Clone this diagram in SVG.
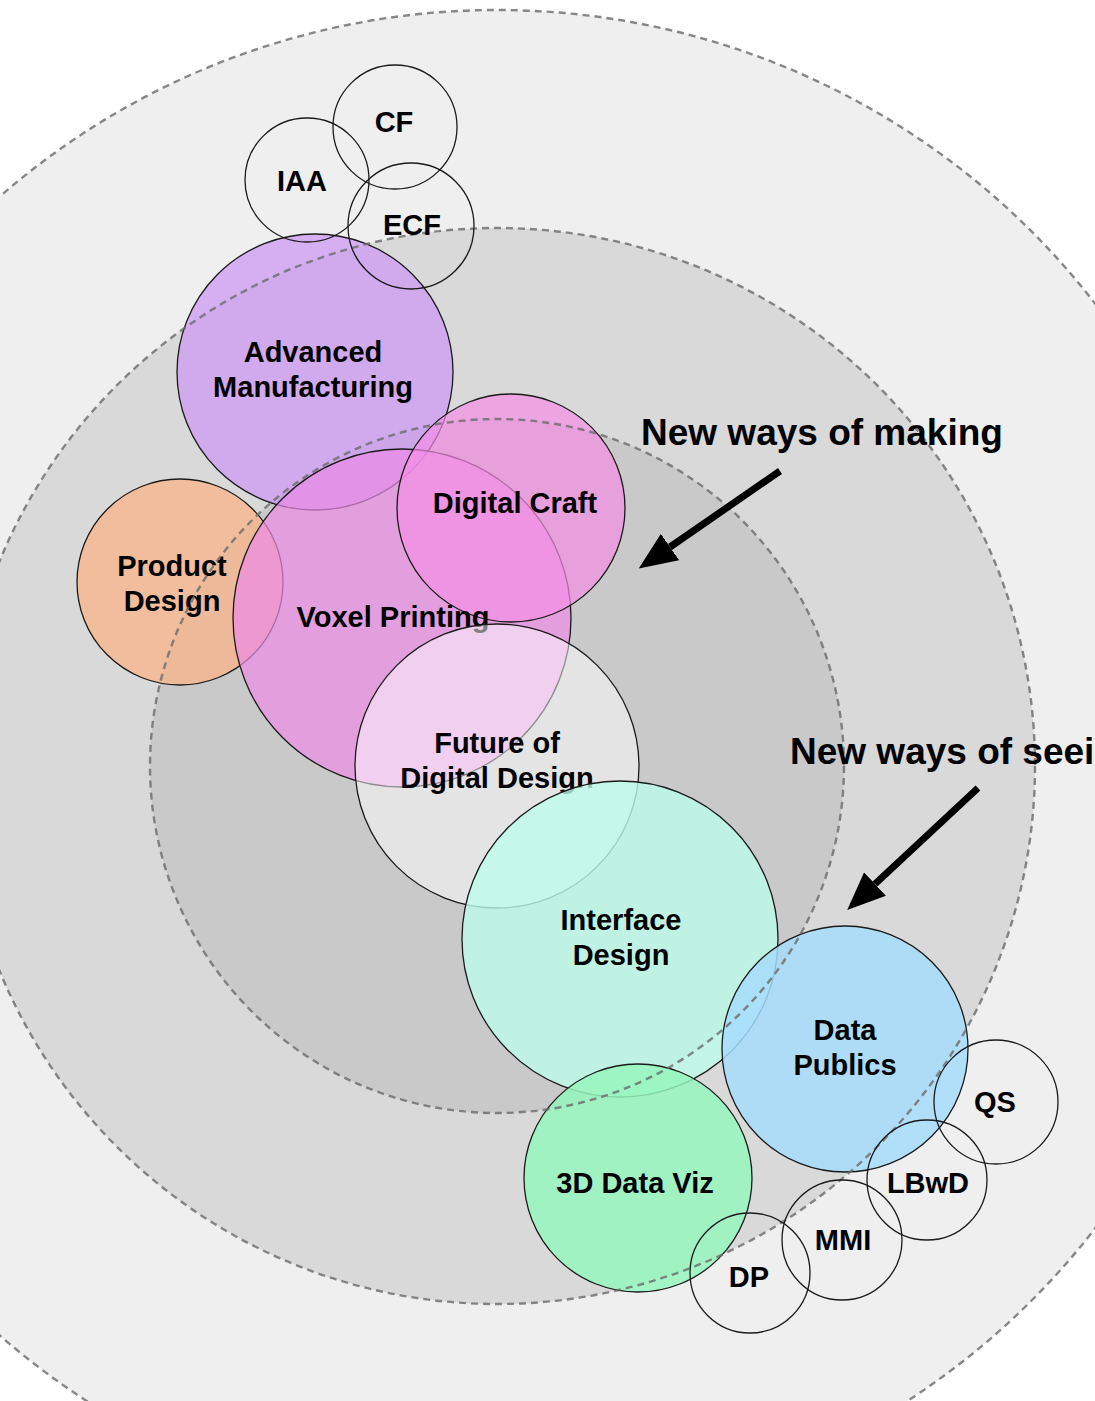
<svg xmlns="http://www.w3.org/2000/svg" width="1095" height="1401" viewBox="0 0 1095 1401">
<defs>
<style>
.band{stroke:none;}
.ring{fill:none;stroke:#6a6a6a;stroke-opacity:0.8;stroke-width:2.4;stroke-dasharray:7 5;}
.node{stroke:#1a1a1a;stroke-width:1.3;}
.small{fill:none;stroke:#1a1a1a;stroke-width:1.3;}
.lbl{font-family:"Liberation Sans",Arial,Helvetica,sans-serif;font-weight:bold;font-size:29px;fill:#000;text-anchor:middle;}
.big{font-family:"Liberation Sans",Arial,Helvetica,sans-serif;font-weight:bold;font-size:37px;fill:#000;}
.arrow{stroke:#000;stroke-width:7;fill:none;}
</style>
<marker id="head" markerUnits="userSpaceOnUse" markerWidth="38" markerHeight="32" refX="0" refY="16" orient="auto" viewBox="0 0 38 32">
<path d="M0,0 L38,16 L0,32 z" fill="#000"/>
</marker>
</defs>
<rect width="1095" height="1401" fill="#ffffff"/>
<g id="bands">
<circle cx="497" cy="766" r="756" fill="#efefef" class="band"/>
<circle cx="497" cy="766" r="538" fill="#d9d9d9" class="band"/>
<circle cx="497" cy="766" r="347" fill="#c9c9c9" class="band"/>
</g>
<g id="advanced-manufacturing">
<circle cx="315" cy="372" r="138" fill="#cd98f3" fill-opacity="0.75" class="node"/>
<text class="lbl" x="313" y="362">Advanced</text>
<text class="lbl" x="313" y="397">Manufacturing</text>
</g>
<g id="product-design">
<circle cx="180" cy="582" r="103" fill="#f8b388" fill-opacity="0.75" class="node"/>
<text class="lbl" x="172" y="576">Product</text>
<text class="lbl" x="172" y="611">Design</text>
</g>
<g id="voxel-printing">
<circle cx="402" cy="618" r="169" fill="#ec8be6" fill-opacity="0.7" class="node"/>
</g>
<g id="digital-craft">
<circle cx="511" cy="508" r="114" fill="#f58ee6" fill-opacity="0.7" class="node"/>
<text class="lbl" x="515" y="513">Digital Craft</text>
</g>
<g id="voxel-printing-label">
<text class="lbl" x="393" y="627">Voxel Printing</text>
</g>
<g id="future-digital-design">
<circle cx="497" cy="766" r="142" fill="#ffffff" fill-opacity="0.5" class="node"/>
<text class="lbl" x="497" y="753">Future of</text>
<text class="lbl" x="497" y="788">Digital Design</text>
</g>
<g id="interface-design">
<circle cx="620" cy="939" r="158" fill="#bdfde8" fill-opacity="0.8" class="node"/>
<text class="lbl" x="621" y="930">Interface</text>
<text class="lbl" x="621" y="965">Design</text>
</g>
<g id="data-publics">
<circle cx="845" cy="1049" r="123" fill="#a6dcfb" fill-opacity="0.85" class="node"/>
<text class="lbl" x="845" y="1040">Data</text>
<text class="lbl" x="845" y="1075">Publics</text>
</g>
<g id="data-viz-3d">
<circle cx="638" cy="1178" r="114" fill="#95f6bd" fill-opacity="0.85" class="node"/>
<text class="lbl" x="635" y="1193">3D Data Viz</text>
</g>
<g id="rings">
<circle cx="497" cy="766" r="756" class="ring"/>
<circle cx="497" cy="766" r="538" class="ring"/>
<circle cx="497" cy="766" r="347" class="ring"/>
</g>
<g id="cf">
<circle cx="395" cy="127" r="62" class="small"/>
<text class="lbl" x="394" y="132">CF</text>
</g>
<g id="iaa">
<circle cx="307" cy="180" r="62" class="small"/>
<text class="lbl" x="302" y="191">IAA</text>
</g>
<g id="ecf">
<circle cx="411" cy="226" r="63" class="small"/>
<text class="lbl" x="412" y="235">ECF</text>
</g>
<g id="qs">
<circle cx="996" cy="1102" r="62" class="small"/>
<text class="lbl" x="995" y="1112">QS</text>
</g>
<g id="lbwd">
<circle cx="927" cy="1180" r="60" class="small"/>
<text class="lbl" x="928" y="1193">LBwD</text>
</g>
<g id="mmi">
<circle cx="842" cy="1240" r="60" class="small"/>
<text class="lbl" x="843" y="1250">MMI</text>
</g>
<g id="dp">
<circle cx="750" cy="1273" r="60" class="small"/>
<text class="lbl" x="749" y="1287">DP</text>
</g>
<g id="label-making">
<text class="big" x="641" y="445">New ways of making</text>
</g>
<g id="label-seeing">
<text class="big" x="790" y="764">New ways of seei</text>
</g>
<g id="connectors">
<line class="arrow" x1="780" y1="471" x2="670" y2="547" marker-end="url(#head)"/>
<line class="arrow" x1="978" y1="788" x2="875" y2="884" marker-end="url(#head)"/>
</g>
</svg>
